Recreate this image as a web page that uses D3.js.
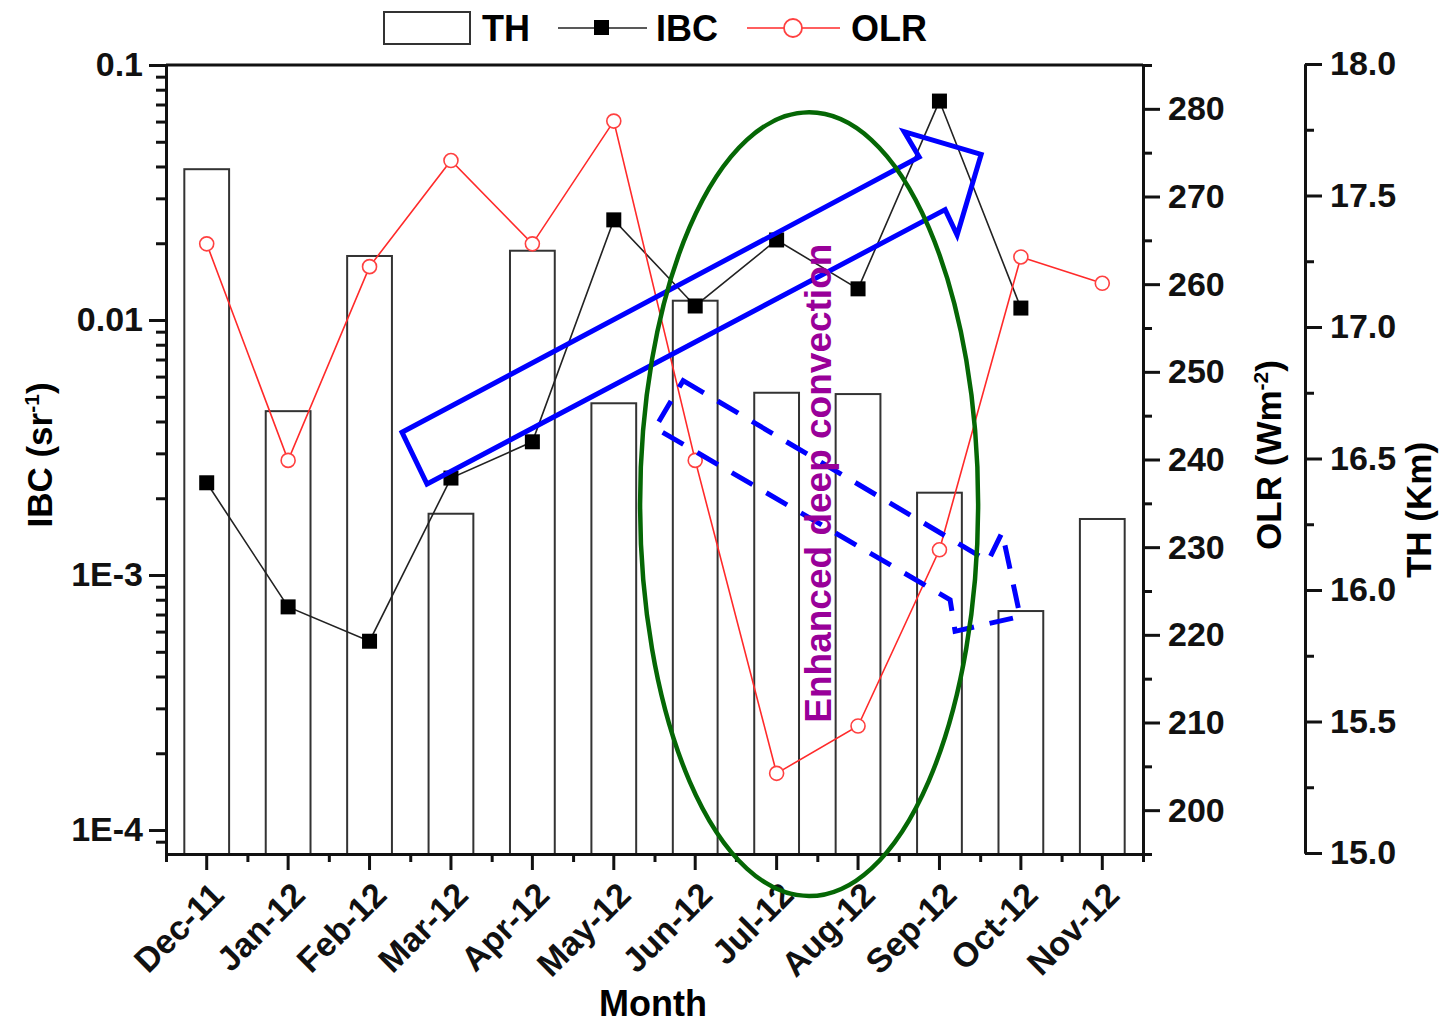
<!DOCTYPE html>
<html>
<head>
<meta charset="utf-8">
<script src="https://cdn.jsdelivr.net/npm/d3@7"></script>
<style>
  body { margin: 0; background: #fff; }
  svg text { font-family: "Liberation Sans", Arial, sans-serif; font-weight: bold; }
</style>
</head>
<body>
<svg id="dessin" width="1441" height="1024"></svg>
<script>
// données
const months = ["Dec-11", "Jan-12", "Feb-12", "Mar-12", "Apr-12", "May-12",
    "Jun-12", "Jul-12", "Aug-12", "Sep-12", "Oct-12", "Nov-12"]
const thValues = [17.60, 16.68, 17.27, 16.29, 17.29, 16.71, 17.10, 16.75, 16.745, 16.37, 15.92, 16.27]
const ibcValues = [0.0023, 0.00075, 0.00055, 0.0024, 0.00333, 0.0247, 0.01135, 0.0206, 0.01325, 0.0722, 0.01114, null]
const olrValues = [264.6, 239.9, 262.0, 274.1, 264.6, 278.6, 239.9, 204.2, 209.6, 229.7, 263.1, 260.1]

const ibcTicks = [1e-4, 1e-3, 0.01, 0.1]
const ibcTickLabels = ["1E-4", "1E-3", "0.01", "0.1"]
const olrTicks = [200, 210, 220, 230, 240, 250, 260, 270, 280]
const thTicks = [15.0, 15.5, 16.0, 16.5, 17.0, 17.5, 18.0]

// annotations, en unités (index du mois, OLR)
const arrowUp = [[2.399, 243.1], [8.751, 274.5], [8.566, 277.4], [9.512, 274.8], [9.217, 265.6], [9.070, 268.5], [2.706, 237.2]]
const arrowDown = [[5.852, 249.0], [9.598, 228.4], [9.770, 231.7], [9.991, 222.1], [9.192, 220.4], [9.131, 224.0], [5.507, 243.6]]
const ellipseBox = { i0: 5.323, i1: 9.475, v0: 190.2, v1: 279.6 }
const noteText = "Enhanced deep convection"
const notePos = [7.51, 237.3]

const plotLeft = 166, plotRight = 1143, plotTop = 65, plotBottom = 854
const svg = d3.select("#dessin")

const x = d3.scaleBand().domain(months).range([plotLeft, plotRight]).paddingInner(0.45).paddingOuter(0.225)
const xIdx = d3.scaleLinear().domain([-0.5, 11.5]).range([plotLeft, plotRight])
const yIBC = d3.scaleLog().domain([Math.pow(10, -4.094), 0.1]).range([plotBottom, plotTop])
const yOLR = d3.scaleLinear().domain([195, 285]).range([plotBottom, plotTop])
const yTH = d3.scaleLinear().domain([15, 18]).range([853, 64])

// barres TH
svg.append("g").selectAll("rect")
    .data(thValues)
    .enter()
    .append("rect")
    .attr("x", (d, i) => x(months[i]))
    .attr("width", x.bandwidth())
    .attr("y", d => yTH(d))
    .attr("height", d => plotBottom - yTH(d))
    .style("fill", "white")
    .style("stroke", "#333")
    .style("stroke-width", 2)

// axes
function styleAxis(g, w) {
    g.selectAll("path, line").style("stroke", "#111").style("stroke-width", w)
    g.selectAll("text").style("font-size", "34px").style("fill", "#111")
}

let minorIBC = []
for (let e = -5; e < -1; e++) {
    for (let k = 2; k <= 9; k++) {
        let v = k * Math.pow(10, e)
        if (v >= yIBC.domain()[0] && v < 0.1) minorIBC.push(v)
    }
}
svg.append("g").attr("transform", `translate(${plotLeft},0)`)
    .call(d3.axisLeft(yIBC).tickValues(minorIBC).tickFormat("").tickSize(10).tickSizeOuter(0))
    .call(g => styleAxis(g, 3))
svg.append("g").attr("transform", `translate(${plotLeft},0)`)
    .call(d3.axisLeft(yIBC).tickValues(ibcTicks).tickFormat((d, i) => ibcTickLabels[i]).tickSize(17).tickSizeOuter(0).tickPadding(6))
    .call(g => styleAxis(g, 3))

// axe OLR
let minorOLR = d3.range(195, 286, 5).filter(v => v % 10 != 0)
svg.append("g").attr("transform", `translate(${plotRight},0)`)
    .call(d3.axisRight(yOLR).tickValues(minorOLR).tickFormat("").tickSize(9).tickSizeOuter(0))
    .call(g => styleAxis(g, 3))
svg.append("g").attr("transform", `translate(${plotRight},0)`)
    .call(d3.axisRight(yOLR).tickValues(olrTicks).tickFormat(d3.format("d")).tickSize(17).tickSizeOuter(0).tickPadding(8))
    .call(g => styleAxis(g, 3))

// axe TH
const thX = 1305
svg.append("g").attr("transform", `translate(${thX},0)`)
    .call(d3.axisRight(yTH).tickValues(d3.range(15.25, 18, 0.5)).tickFormat("").tickSize(9).tickSizeOuter(0))
    .call(g => styleAxis(g, 3))
svg.append("g").attr("transform", `translate(${thX},0)`)
    .call(d3.axisRight(yTH).tickValues(thTicks).tickFormat(d3.format(".1f")).tickSize(17).tickSizeOuter(0).tickPadding(8))
    .call(g => styleAxis(g, 3))

// axe X
svg.append("g").attr("transform", `translate(0,${plotBottom})`)
    .call(d3.axisBottom(xIdx).tickValues(d3.range(-0.5, 12, 1)).tickFormat("").tickSize(8).tickSizeOuter(0))
    .call(g => styleAxis(g, 3))
svg.append("g").attr("transform", `translate(0,${plotBottom})`)
    .call(d3.axisBottom(x).tickSize(16).tickSizeOuter(0))
    .call(g => styleAxis(g, 3))
    .call(g => g.selectAll(".tick text")
        .attr("text-anchor", "end")
        .attr("transform", "translate(2,26) rotate(-45)")
        .attr("dy", "0.71em")
        .attr("y", 0))

// cadre haut
svg.append("line")
    .attr("x1", plotLeft).attr("x2", plotRight)
    .attr("y1", plotTop).attr("y2", plotTop)
    .style("stroke", "#111").style("stroke-width", 3)

// courbe IBC
const ibcPts = ibcValues.map((d, i) => ({ i: i, v: d })).filter(d => d.v != null)
svg.append("path")
    .datum(ibcPts)
    .attr("d", d3.line().x(d => xIdx(d.i)).y(d => yIBC(d.v)))
    .style("fill", "none").style("stroke", "#222").style("stroke-width", 1.6)
svg.append("g").selectAll("rect")
    .data(ibcPts)
    .enter()
    .append("rect")
    .attr("x", d => xIdx(d.i) - 7.5)
    .attr("y", d => yIBC(d.v) - 7.5)
    .attr("width", 15).attr("height", 15)
    .style("fill", "black")

// courbe OLR
svg.append("path")
    .datum(olrValues)
    .attr("d", d3.line().x((d, i) => xIdx(i)).y(d => yOLR(d)))
    .style("fill", "none").style("stroke", "#ff2a2a").style("stroke-width", 1.6)
svg.append("g").selectAll("circle")
    .data(olrValues)
    .enter()
    .append("circle")
    .attr("cx", (d, i) => xIdx(i))
    .attr("cy", d => yOLR(d))
    .attr("r", 7)
    .style("fill", "white").style("stroke", "#ff4040").style("stroke-width", 1.6)

// annotations
const annLine = d3.line().x(d => xIdx(d[0])).y(d => yOLR(d[1])).curve(d3.curveLinearClosed)
svg.append("path")
    .attr("d", annLine(arrowUp))
    .style("fill", "none").style("stroke", "#0000ff").style("stroke-width", 5)
    .style("stroke-linejoin", "miter")
svg.append("path")
    .attr("d", annLine(arrowDown))
    .style("fill", "none").style("stroke", "#0000ff").style("stroke-width", 5)
    .style("stroke-dasharray", "24,16")

svg.append("ellipse")
    .attr("cx", (xIdx(ellipseBox.i0) + xIdx(ellipseBox.i1)) / 2)
    .attr("cy", (yOLR(ellipseBox.v0) + yOLR(ellipseBox.v1)) / 2)
    .attr("rx", (xIdx(ellipseBox.i1) - xIdx(ellipseBox.i0)) / 2)
    .attr("ry", (yOLR(ellipseBox.v0) - yOLR(ellipseBox.v1)) / 2)
    .style("fill", "none").style("stroke", "#056705").style("stroke-width", 4.5)

svg.append("text")
    .attr("transform", `translate(${xIdx(notePos[0])},${yOLR(notePos[1])}) rotate(-90)`)
    .attr("text-anchor", "middle")
    .attr("dy", "0.35em")
    .style("font-size", "37px")
    .style("fill", "#990099")
    .text(noteText)

// titres des axes
const ibcLabel = svg.append("text")
    .attr("transform", "translate(52,455) rotate(-90)")
    .attr("text-anchor", "middle")
    .style("font-size", "35px")
ibcLabel.append("tspan").text("IBC (sr")
ibcLabel.append("tspan").text("-1").attr("dy", -13).style("font-size", "21px")
ibcLabel.append("tspan").text(")").attr("dy", 13)

const olrLabel = svg.append("text")
    .attr("transform", "translate(1281,455) rotate(-90)")
    .attr("text-anchor", "middle")
    .style("font-size", "35px")
olrLabel.append("tspan").text("OLR (Wm")
olrLabel.append("tspan").text("-2").attr("dy", -13).style("font-size", "21px")
olrLabel.append("tspan").text(")").attr("dy", 13)

svg.append("text")
    .attr("transform", "translate(1431,510) rotate(-90)")
    .attr("text-anchor", "middle")
    .style("font-size", "35px")
    .text("TH (Km)")

svg.append("text")
    .attr("x", 653).attr("y", 1016)
    .attr("text-anchor", "middle")
    .style("font-size", "36px")
    .text("Month")

// légende
const leg = svg.append("g")
leg.append("rect").attr("x", 384).attr("y", 12).attr("width", 86).attr("height", 32)
    .style("fill", "white").style("stroke", "#333").style("stroke-width", 2)
leg.append("text").attr("x", 482).attr("y", 41).style("font-size", "36px").text("TH")
leg.append("line").attr("x1", 558).attr("x2", 647).attr("y1", 28).attr("y2", 28)
    .style("stroke", "#222").style("stroke-width", 1.6)
leg.append("rect").attr("x", 594).attr("y", 20).attr("width", 15).attr("height", 15).style("fill", "black")
leg.append("text").attr("x", 656).attr("y", 41).style("font-size", "36px").text("IBC")
leg.append("line").attr("x1", 747).attr("x2", 840).attr("y1", 28).attr("y2", 28)
    .style("stroke", "#ff2a2a").style("stroke-width", 1.6)
leg.append("circle").attr("cx", 793).attr("cy", 28).attr("r", 9)
    .style("fill", "white").style("stroke", "#ff4040").style("stroke-width", 1.8)
leg.append("text").attr("x", 851).attr("y", 41).style("font-size", "36px").text("OLR")
</script>
</body>
</html>
